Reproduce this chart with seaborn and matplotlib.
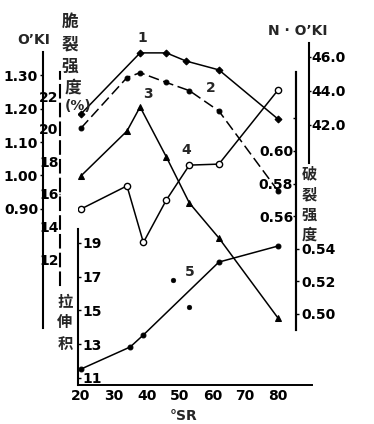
import matplotlib
matplotlib.use('Agg')
import matplotlib.pyplot as plt
import seaborn as sns

sns.set_style('white')
plt.rcParams['font.family'] = ['DejaVu Sans', 'Noto Sans CJK SC']
plt.rcParams['font.weight'] = 'bold'

# ---- data ----
sr1 = [20, 38, 46, 52, 62, 80]
noki = [42.65, 46.24, 46.24, 45.76, 45.24, 42.35]          # curve 1, N·O'KI

sr2 = [20, 34, 38, 46, 53, 62, 80]
burst = [0.614, 0.645, 0.648, 0.642, 0.637, 0.6245, 0.5755]  # curve 2, 破裂强度

sr3 = [20, 34, 38, 46, 53, 62, 80]
brittle = [17.1, 19.85, 21.33, 18.26, 15.44, 13.29, 8.38]   # curve 3, 脆裂强度(%)

sr4 = [20, 34, 39, 46, 53, 62, 80]
oki = [0.900, 0.969, 0.800, 0.927, 1.031, 1.034, 1.255]     # curve 4, O'KI

sr5 = [20, 35, 39, 62, 80]
tea = [11.53, 12.84, 13.55, 17.87, 18.82]                   # curve 5, 拉伸积
sr5_extra = [48, 53]
tea_extra = [16.81, 15.21]

x_ticks = [20, 30, 40, 50, 60, 70, 80]
oki_ticks = [0.90, 1.00, 1.10, 1.20, 1.30]
brittle_ticks = [12, 14, 16, 18, 20, 22]
tea_ticks = [11, 13, 15, 17, 19]
noki_ticks = [42.0, 44.0, 46.0]
burst_ticks_left = [0.56, 0.58, 0.60, 0.62]
burst_ticks_right = [0.50, 0.52, 0.54]

W, H = 374, 424
fig = plt.figure(figsize=(W / 100, H / 100), dpi=100)
fig.patch.set_facecolor('white')

def fx(px):
    return px / W

def fy(py):
    return 1 - py / H

ax = fig.add_axes([78 / W, (H - 385) / H, 234 / W, 385 / H])
ax.patch.set_alpha(0)
for s in ['top', 'right', 'left']:
    ax.spines[s].set_visible(False)
ax.spines['bottom'].set_linewidth(1.4)
ax.spines['bottom'].set_color('black')
ax.set_xlim(19.086, 90.36)
ax.set_yticks([])
ax.set_xticks(x_ticks)
ax.set_xticklabels([str(v) for v in x_ticks])
ax.tick_params(axis='x', direction='in', length=2, width=1, labelsize=10, pad=3, colors='black')

def make_axis(side, frac, ylim, lo, hi, ticks, labels, ls='-', length=2.5, pad=1):
    a = ax.twinx()
    a.patch.set_alpha(0)
    a.set_ylim(*ylim)
    for s in a.spines.values():
        s.set_visible(False)
    sp = a.spines[side]
    sp.set_visible(True)
    sp.set_position(('axes', frac))
    sp.set_bounds(lo, hi)
    sp.set_linewidth(1.5)
    sp.set_color('black')
    sp.set_linestyle(ls)
    a.yaxis.set_ticks_position(side)
    a.set_yticks(ticks)
    a.set_yticklabels(labels)
    a.tick_params(axis='y', length=length, width=1, labelsize=10, pad=pad, colors='black')
    return a

ax_oki = make_axis('left', (43 - 78) / 234, (0.3746, 1.5239), 0.5448, 1.3687,
                   oki_ticks, ['%.2f' % v for v in oki_ticks])
ax_br = make_axis('left', (60 - 78) / 234, (4.27, 27.89), 10.40, 23.47,
                  brittle_ticks, [str(v) for v in brittle_ticks], ls=(0, (6, 3)), length=1, pad=0)
ax_tea = make_axis('right', 0.0, (10.585, 33.4), 10.585, 19.83,
                   tea_ticks, [str(v) for v in tea_ticks], length=2, pad=1)
ax_nk = make_axis('right', (309 - 78) / 234, (26.71, 49.35), 39.77, 46.82,
                  noki_ticks, ['%.1f' % v for v in noki_ticks], length=1.5, pad=0.5)
ax_bu = make_axis('left', (296 - 78) / 234, (0.4564, 0.6926), 0.4902, 0.6485,
                  burst_ticks_left, ['0.56', '0.58', '0.60', ''], length=2, pad=0)
ax_bu2 = make_axis('right', (296 - 78) / 234, (0.4564, 0.6926), 0.4902, 0.6485,
                   burst_ticks_right, ['%.2f' % v for v in burst_ticks_right], length=2, pad=2)

lw = 1.1
sns.lineplot(x=sr1, y=noki, ax=ax_nk, color='black', lw=lw, marker='D', markersize=3.5,
             markeredgecolor='black', markerfacecolor='black')
sns.lineplot(x=sr2, y=burst, ax=ax_bu, color='black', lw=lw, ls=(0, (7, 3)), marker='o', markersize=3.5,
             markeredgecolor='black', markerfacecolor='black')
sns.lineplot(x=sr3, y=brittle, ax=ax_br, color='black', lw=lw, marker='^', markersize=4.5,
             markeredgecolor='black', markerfacecolor='black')
sns.lineplot(x=sr4, y=oki, ax=ax_oki, color='black', lw=lw, marker='o', markersize=4.5,
             markeredgecolor='black', markerfacecolor='white', markeredgewidth=1)
sns.lineplot(x=sr5, y=tea, ax=ax_tea, color='black', lw=lw, marker='o', markersize=3.5,
             markeredgecolor='black', markerfacecolor='black')
sns.scatterplot(x=sr5_extra, y=tea_extra, ax=ax_tea, color='black', s=12, edgecolor='black')

# restore limits after seaborn
ax.set_xlim(19.086, 90.36)
for a, lim in [(ax_oki, (0.3746, 1.5239)), (ax_br, (4.27, 27.89)), (ax_tea, (10.585, 33.4)),
               (ax_nk, (26.71, 49.35)), (ax_bu, (0.4564, 0.6926)), (ax_bu2, (0.4564, 0.6926))]:
    a.set_ylim(*lim)
    a.set_xlabel('')
    a.set_ylabel('')
ax.set_xlabel('')

# axis titles
fig.text(fx(34), fy(40), 'O’KI', ha='center', va='center', fontsize=10, fontweight='bold')
fig.text(fx(298), fy(31), 'N · O’KI', ha='center', va='center', fontsize=10, fontweight='bold')
fig.text(fx(184), fy(416), '°SR', ha='center', va='center', fontsize=10, fontweight='bold')

for ch, (px, py) in zip('脆裂强度', [(70, 22), (70, 45), (70, 67), (73, 88)]):
    fig.text(fx(px), fy(py), ch, ha='center', va='center', fontsize=12, fontweight='bold')
fig.text(fx(78), fy(106), '(%)', ha='center', va='center', fontsize=10, fontweight='bold')

for ch, (px, py) in zip('拉伸积', [(65, 302), (65, 323), (65, 344)]):
    fig.text(fx(px), fy(py), ch, ha='center', va='center', fontsize=11, fontweight='bold')
for ch, (px, py) in zip('破裂强度', [(309, 174), (309, 195), (309, 215), (309, 235)]):
    fig.text(fx(px), fy(py), ch, ha='center', va='center', fontsize=11, fontweight='bold')

# curve numbers
for t, (px, py) in zip('12345', [(142, 38), (211, 88), (148, 94), (186, 150), (190, 272)]):
    fig.text(fx(px), fy(py), t, ha='center', va='center', fontsize=10, fontweight='bold')

fig.savefig('out.png', dpi=100, facecolor='white')
